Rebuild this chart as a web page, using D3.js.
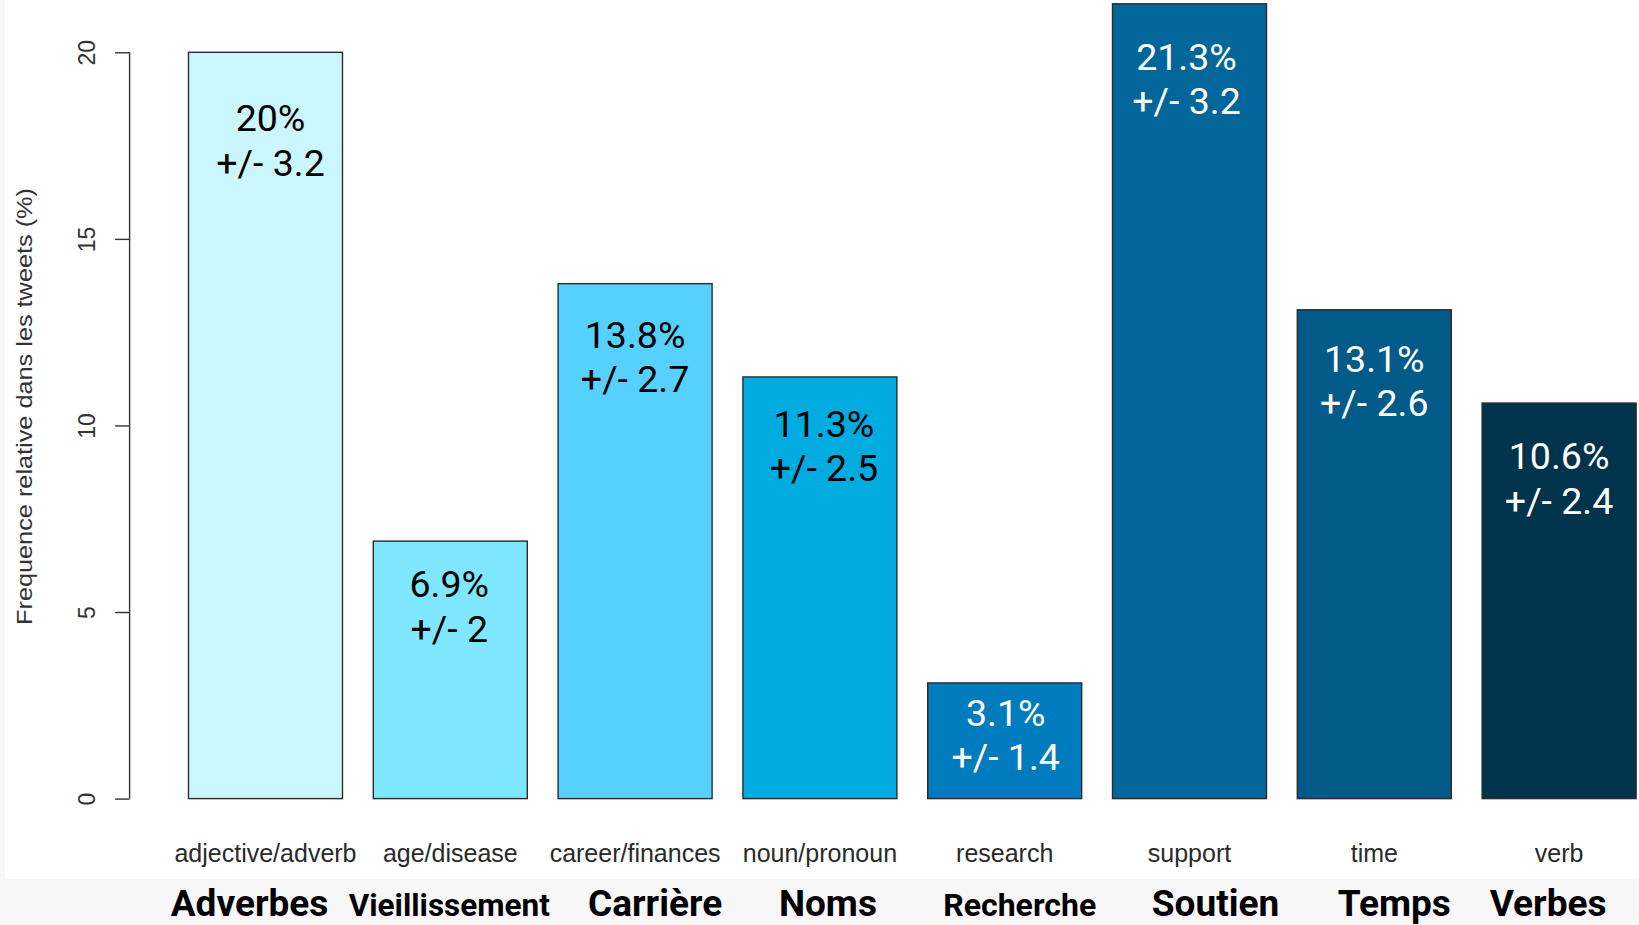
<!DOCTYPE html>
<html>
<head>
<meta charset="utf-8">
<script src="https://cdn.jsdelivr.net/npm/d3@7/dist/d3.min.js"></script>
<style>
  html, body { margin: 0; padding: 0; background: #ffffff; }
  svg { display: block; }
</style>
</head>
<body>
<script>
// ---- data ----
const categories = ["adjective/adverb", "age/disease", "career/finances", "noun/pronoun", "research", "support", "time", "verb"];
const frenchLabels = ["Adverbes", "Vieillissement", "Carrière", "Noms", "Recherche", "Soutien", "Temps", "Verbes"];
const values = [20, 6.9, 13.8, 11.3, 3.1, 21.3, 13.1, 10.6];
const margins = [3.2, 2, 2.7, 2.5, 1.4, 3.2, 2.6, 2.4];
const yTicks = [0, 5, 10, 15, 20];
const yTitle = "Frequence relative dans les tweets (%)";

// ---- styles / layout ----
const barColors = ["#ccf6fd", "#7ee7fe", "#56d1fe", "#00acdf", "#007bbe", "#02669a", "#015a87", "#01334c"];
const labelColors = ["#000", "#000", "#000", "#000", "#fff", "#fff", "#fff", "#fff"];
const labelOffsetPx = [79, 56, 64, 60, 43, 66, 62, 66];   // first baseline below bar top
const labelShiftX = [5, -1, 0, 4, 1, -3, 0, 0];
const frOffsetPx = [-16, -1, 20, 8, 15, 26, 20, -11];      // French label shift from bar centre
const frSize = [37, 31.5, 37, 37, 32, 37, 37, 37];

const W = 1639, H = 925;
const svg = d3.select("body").append("svg").attr("width", W).attr("height", H);

// background strips
svg.append("rect").attr("x", 0).attr("y", 0).attr("width", W).attr("height", H).attr("fill", "#ffffff");
svg.append("rect").attr("x", 0).attr("y", 0).attr("width", 5).attr("height", H).attr("fill", "#f7f7f7");
svg.append("rect").attr("x", 0).attr("y", 879).attr("width", W).attr("height", H - 879).attr("fill", "#f7f7f7");

const y = d3.scaleLinear().domain([0, 20]).range([798.6, 52.3]);
const x = d3.scaleBand().domain(categories).range([173.1, 1651.5])
  .paddingInner(0.1667).paddingOuter(0.0833);

// y axis (R style)
const axisG = svg.append("g").attr("transform", "translate(129.6,0)");
axisG.call(d3.axisLeft(y).tickValues(yTicks).tickSize(14.5).tickFormat(d3.format("d")));
axisG.select(".domain").attr("d", `M0,${y(0)}V${y(20)}`).attr("stroke", "#333").attr("stroke-width", 1.4);
axisG.selectAll(".tick line").attr("stroke", "#333").attr("stroke-width", 1.4);
axisG.selectAll(".tick text")
  .attr("x", null).attr("dy", null)
  .attr("transform", "translate(-35,0) rotate(-90)")
  .attr("text-anchor", "middle")
  .attr("font-family", "'Liberation Sans', Arial, sans-serif")
  .attr("font-size", 23)
  .attr("fill", "#333");

// y title
svg.append("text")
  .attr("transform", "translate(32,406.5) rotate(-90)")
  .attr("text-anchor", "middle")
  .attr("font-family", "'Liberation Sans', Arial, sans-serif")
  .attr("font-size", 22)
  .attr("textLength", 437)
  .attr("lengthAdjust", "spacingAndGlyphs")
  .attr("fill", "#333")
  .text(yTitle);

// bars
svg.append("g").selectAll("rect").data(categories).join("rect")
  .attr("x", d => x(d))
  .attr("y", (d, i) => y(values[i]))
  .attr("width", x.bandwidth())
  .attr("height", (d, i) => y(0) - y(values[i]))
  .attr("fill", (d, i) => barColors[i])
  .attr("stroke", "#2b2b2b")
  .attr("stroke-width", 1.4);

// value labels
const cx = (d, i) => x(d) + x.bandwidth() / 2 + labelShiftX[i];
const lab = svg.append("g").selectAll("text").data(categories).join("text")
  .attr("x", cx)
  .attr("y", (d, i) => y(values[i]) + labelOffsetPx[i])
  .attr("text-anchor", "middle")
  .attr("font-family", "Roboto, sans-serif")
  .attr("font-size", 37.5)
  .attr("fill", (d, i) => labelColors[i]);
lab.append("tspan").text((d, i) => values[i] + "%");
lab.append("tspan")
  .attr("x", cx)
  .attr("dy", 44.5)
  .text((d, i) => "+/- " + margins[i]);

// category labels (English)
svg.append("g").selectAll("text").data(categories).join("text")
  .attr("x", d => x(d) + x.bandwidth() / 2)
  .attr("y", 862)
  .attr("text-anchor", "middle")
  .attr("font-family", "'Liberation Sans', Arial, sans-serif")
  .attr("font-size", 25)
  .attr("fill", "#2a2a2a")
  .text(d => d);

// French labels
svg.append("g").selectAll("text").data(categories).join("text")
  .attr("x", (d, i) => x(d) + x.bandwidth() / 2 + frOffsetPx[i])
  .attr("y", 916)
  .attr("text-anchor", "middle")
  .attr("font-family", "Roboto, sans-serif")
  .attr("font-weight", "bold")
  .attr("font-size", (d, i) => frSize[i])
  .attr("fill", "#000")
  .text((d, i) => frenchLabels[i]);
</script>
</body>
</html>
